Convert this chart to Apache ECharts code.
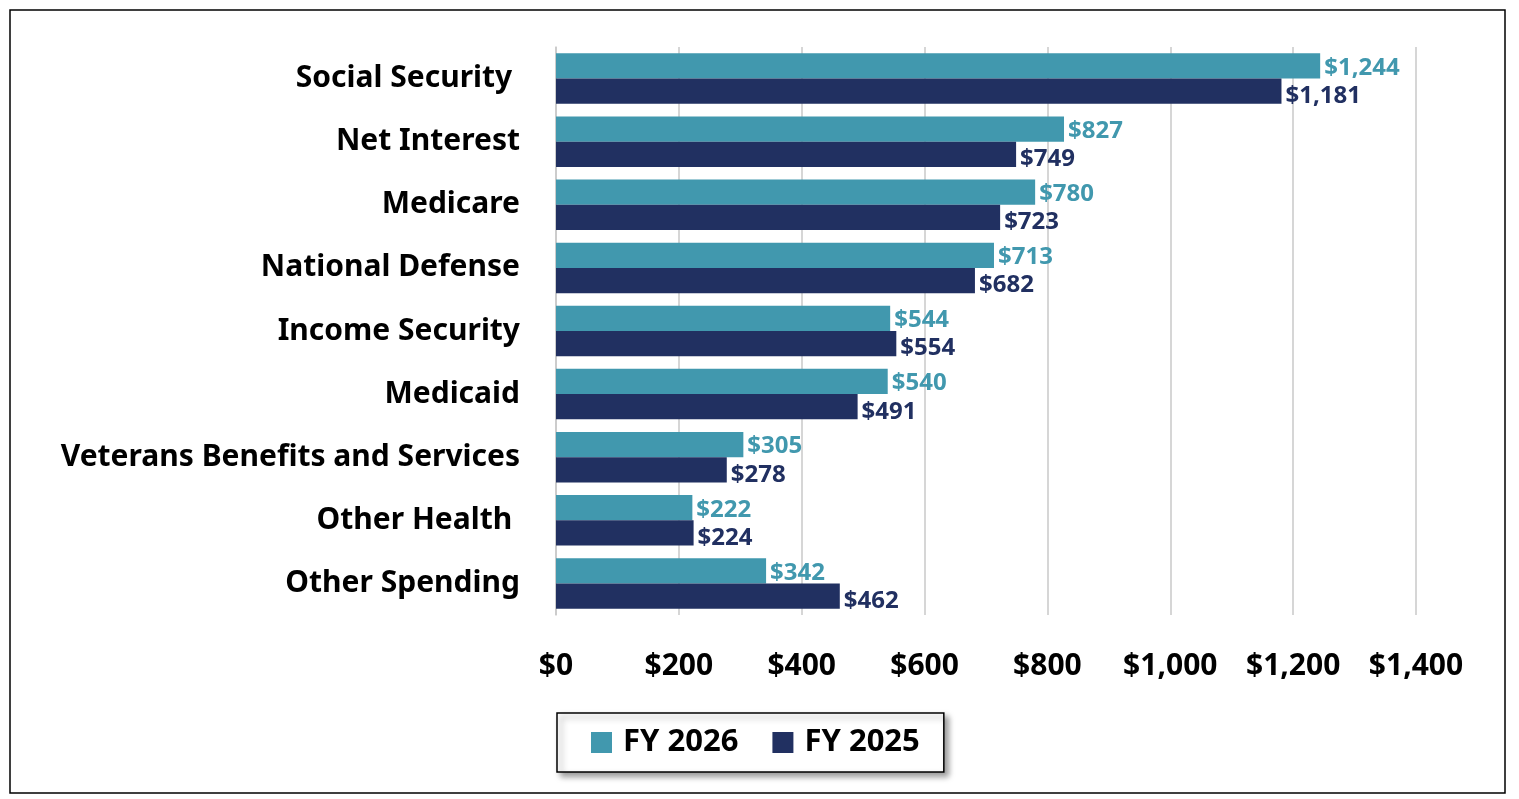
<!DOCTYPE html>
<html><head><meta charset="utf-8">
<script src="https://cdn.jsdelivr.net/npm/echarts@6/dist/echarts.min.js"></script>
<style>html,body{margin:0;padding:0;background:#fff}#c{width:1519px;height:799px}</style>
</head><body><div id="c"></div>
<script>
const categories = ["Social Security ", "Net Interest", "Medicare", "National Defense", "Income Security", "Medicaid", "Veterans Benefits and Services", "Other Health ", "Other Spending"];
const fy2026 = [1244, 827, 780, 713, 544, 540, 305, 222, 342];
const fy2025 = [1181, 749, 723, 682, 554, 491, 278, 224, 462];
const xTicks = [0, 200, 400, 600, 800, 1000, 1200, 1400];
const fmt = v => '$' + v.toLocaleString('en-US');
const font = '"Noto Sans", "Open Sans", sans-serif';
const chart = echarts.init(document.getElementById('c'));
function lbl(color, dy){return {show:true,position:'right',distance:4,offset:[0,dy],color:color,fontWeight:'bold',fontSize:24,fontFamily:font,formatter:p=>fmt(p.value)};}
chart.setOption({
  animation:false,
  graphic:[{type:'rect',shape:{x:10,y:10,width:1495,height:783},style:{fill:'none',stroke:'#000',lineWidth:1.5}}],
  grid:{left:556,right:103,top:47,bottom:184,containLabel:false},
  legend:{bottom:27,left:557,itemWidth:21,itemHeight:21,itemGap:34,padding:[14,24,14,34],
    borderColor:'#000',borderWidth:1.5,backgroundColor:'#fff',shadowColor:'rgba(0,0,0,0.4)',shadowBlur:6,shadowOffsetX:4,shadowOffsetY:4,
    textStyle:{fontSize:31,fontWeight:'bold',fontFamily:font,color:'#000',padding:[0,0,0,6]},icon:'rect'},
  xAxis:{type:'value',min:0,max:1400,interval:200,
    axisLabel:{formatter:v=>fmt(v),fontSize:30,fontWeight:'bold',fontFamily:font,color:'#000',margin:36},
    splitLine:{lineStyle:{color:'#c8c8c8',width:1.5}},axisLine:{show:false},axisTick:{show:false}},
  yAxis:{type:'category',data:categories,inverse:true,
    axisLabel:{fontSize:30,fontWeight:'bold',fontFamily:font,color:'#000',margin:36},
    axisLine:{lineStyle:{color:'#c8c8c8',width:1.5}},axisTick:{show:false}},
  series:[
    {name:'FY 2026',type:'bar',data:fy2026,itemStyle:{color:'#4198AE'},barGap:'0%',barCategoryGap:'20%',label:lbl('#4198AE',2)},
    {name:'FY 2025',type:'bar',data:fy2025,itemStyle:{color:'#213061'},label:lbl('#213061',5)}
  ]
});
</script></body></html>
